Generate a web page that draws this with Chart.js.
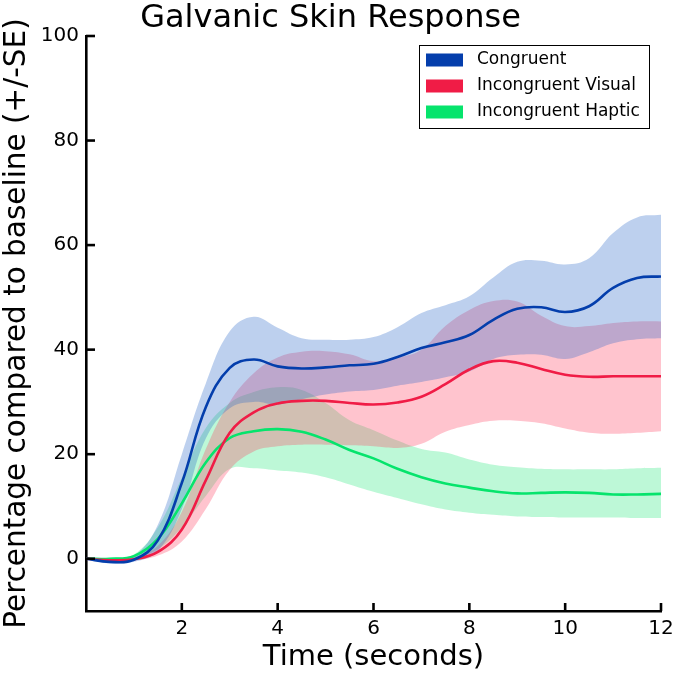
<!DOCTYPE html>
<html>
<head>
<meta charset="utf-8">
<script src="https://cdn.jsdelivr.net/npm/chart.js@4.4.1/dist/chart.umd.min.js"></script>
<style>
  html, body { margin: 0; padding: 0; background: #fff; }
  #wrap { width: 675px; height: 675px; }
</style>
</head>
<body>
<div id="wrap"><canvas id="canvas" width="675" height="675"></canvas></div>
<script>
// time axis (seconds), values every half second
var time = [0, 0.5, 1, 1.5, 2, 2.5, 3, 3.5, 4, 4.5, 5, 5.5, 6, 6.5, 7, 7.5, 8, 8.5, 9, 9.5, 10, 10.5, 11, 11.5, 12];

var congruent      = [0, -0.6, -0.2, 3.5, 14.5, 29, 36.5, 38.1, 36.8, 36.4, 36.6, 37.0, 37.3, 38.6, 40.3, 41.4, 42.8, 45.7, 47.8, 48.1, 47.2, 48.3, 51.8, 53.7, 54.0];
var congruentHi    = [0, -0.3, 0.5, 6.5, 20, 33.5, 43.5, 46.3, 44.2, 42.2, 41.9, 41.9, 42.4, 44.3, 47, 48.5, 50.2, 53.8, 56.8, 57.0, 56.3, 57.5, 62.3, 65.3, 65.8];
var congruentLo    = [0, -0.9, -0.6, 1.5, 9.5, 23, 28.8, 30, 29.5, 30.5, 31.4, 32, 32.3, 33.1, 33.8, 34.7, 35.8, 38.2, 39, 39, 38.2, 39.5, 41.2, 42, 42.2];

var visual         = [0, -0.3, -0.1, 1.3, 5.6, 15, 24.1, 28, 29.7, 30.2, 30.2, 29.8, 29.5, 29.9, 31, 33.4, 36.2, 37.8, 37.5, 36.3, 35.2, 34.8, 34.9, 34.9, 34.9];
var visualHi       = [0, 0, 0.3, 2.5, 9, 21, 30, 35.5, 38.5, 39.6, 39.7, 39.1, 37.8, 38.5, 40, 44.5, 47.6, 49.3, 49.2, 46.5, 44.5, 44.5, 45.1, 45.4, 45.4];
var visualLo       = [0, -0.4, -0.3, 0.6, 3.3, 9.5, 17, 20.5, 21.5, 21.8, 21.8, 21.7, 21.5, 21.2, 22, 24.3, 25.6, 26.4, 26.4, 25.9, 24.9, 24.1, 23.9, 24.1, 24.4];

var haptic         = [0, 0, 0.5, 3.8, 10.6, 18.4, 23.1, 24.4, 24.8, 24.3, 22.8, 20.8, 19.2, 17.2, 15.6, 14.4, 13.6, 12.9, 12.5, 12.6, 12.7, 12.6, 12.3, 12.3, 12.4];
var hapticHi       = [0, 0.2, 0.8, 6, 15.5, 25, 29.8, 31.9, 32.8, 32.3, 29.8, 26.5, 24.6, 22.6, 21, 20.3, 19, 18, 17.5, 17.2, 17.1, 17.1, 17.1, 17.3, 17.4];
var hapticLo       = [0, -0.2, 0.2, 1.8, 6, 12, 17.2, 17.3, 16.9, 16.5, 15.6, 14.2, 12.8, 11.6, 10.4, 9.4, 8.8, 8.4, 8.1, 8.0, 7.9, 7.9, 7.9, 7.8, 7.8];

var seriesNames = ["Congruent", "Incongruent Visual", "Incongruent Haptic"];
var xTicks = [2, 4, 6, 8, 10, 12];
var yTicks = [0, 20, 40, 60, 80, 100];

var lineColors = ["rgb(4,62,172)", "rgb(240,28,70)", "rgb(6,228,108)"];
var bandColors = ["rgba(35,98,198,0.3)", "rgba(255,58,92,0.3)", "rgba(38,232,122,0.3)"];

function pts(ys) {
    return time.map(function (t, i) { return { x: t, y: ys[i] }; });
}

var groups = [
    [congruent, congruentHi, congruentLo],
    [visual, visualHi, visualLo],
    [haptic, hapticHi, hapticLo]
];

var datasets = [];
// bands first (upper fills to the lower one right after it)
groups.forEach(function (g, k) {
    datasets.push({
        label: seriesNames[k] + " hi", data: pts(g[1]),
        borderWidth: 0, pointRadius: 0, backgroundColor: bandColors[k],
        fill: "+1", tension: 0.4
    });
    datasets.push({
        label: seriesNames[k] + " lo", data: pts(g[2]),
        borderWidth: 0, pointRadius: 0, backgroundColor: bandColors[k],
        fill: false, tension: 0.4
    });
});
groups.forEach(function (g, k) {
    datasets.push({
        label: seriesNames[k], data: pts(g[0]),
        borderColor: lineColors[k], backgroundColor: lineColors[k],
        borderWidth: 2.6, pointRadius: 0, fill: false,
        tension: 0.4, order: -1
    });
});

// inward tick marks like the original figure
var innerTicks = {
    id: "innerTicks",
    afterDatasetsDraw: function (chart) {
        var ctx = chart.ctx, xs = chart.scales.x, ys = chart.scales.y;
        var a = chart.chartArea;
        ctx.save();
        ctx.strokeStyle = "#000";
        ctx.lineWidth = 2.6;
        xTicks.forEach(function (v) {
            var px = xs.getPixelForValue(v);
            ctx.beginPath(); ctx.moveTo(px, a.bottom); ctx.lineTo(px, a.bottom - 8); ctx.stroke();
        });
        yTicks.forEach(function (v) {
            var py = ys.getPixelForValue(v);
            ctx.beginPath(); ctx.moveTo(a.left, py); ctx.lineTo(a.left + 9, py); ctx.stroke();
        });
        ctx.restore();
    }
};

// boxed legend in the upper right corner
var boxLegend = {
    id: "boxLegend",
    afterDraw: function (chart) {
        var ctx = chart.ctx, a = chart.chartArea;
        var w = 230, h = 83;
        var x0 = a.right - 12 - w, y0 = a.top + 9;
        ctx.save();
        ctx.fillStyle = "#fff";
        ctx.fillRect(x0, y0, w, h);
        ctx.strokeStyle = "#000";
        ctx.lineWidth = 1;
        ctx.strokeRect(x0 + 0.5, y0 + 0.5, w, h);
        ctx.font = "17px 'DejaVu Sans'";
        ctx.textBaseline = "middle";
        seriesNames.forEach(function (name, k) {
            var cy = y0 + 15 + k * 26;
            ctx.fillStyle = lineColors[k];
            ctx.fillRect(x0 + 7, cy - 6.5, 37, 13);
            ctx.fillStyle = "#000";
            ctx.fillText(name, x0 + 58, cy);
        });
        ctx.restore();
    }
};

var ctx = document.getElementById("canvas");
var chart = new Chart(ctx, {
    type: "line",
    data: { datasets: datasets },
    plugins: [innerTicks, boxLegend],
    options: {
        responsive: false,
        animation: false,
        layout: { padding: { top: 0, right: 14, left: 0, bottom: 0 } },
        plugins: {
            legend: { display: false },
            tooltip: { enabled: false },
            filler: { propagate: false, drawTime: "beforeDatasetsDraw" },
            title: {
                display: true,
                text: "Galvanic Skin Response",
                color: "#000",
                font: { family: "'DejaVu Sans'", size: 32, weight: "normal", lineHeight: 1 },
                padding: { top: 3, bottom: 1 }
            }
        },
        scales: {
            x: {
                type: "linear", min: 0, max: 12,
                afterBuildTicks: function (s) { s.ticks = xTicks.map(function (v) { return { value: v }; }); },
                afterFit: function (s) { s.height = 64; s.paddingRight = 0; s.paddingLeft = 0; },
                border: { display: true, color: "#000", width: 2.6 },
                grid: { drawOnChartArea: false, drawTicks: false },
                ticks: { color: "#000", padding: 6, maxRotation: 0, font: { family: "'DejaVu Sans'", size: 20 } },
                title: {
                    display: true, text: "Time (seconds)", color: "#000",
                    font: { family: "'DejaVu Sans'", size: 29 },
                    padding: { top: 0, bottom: 0 }
                }
            },
            y: {
                type: "linear", min: -10, max: 100,
                afterBuildTicks: function (s) { s.ticks = yTicks.map(function (v) { return { value: v }; }); },
                afterFit: function (s) { s.width = 86; },
                border: { display: true, color: "#000", width: 2.6 },
                grid: { drawOnChartArea: false, drawTicks: false },
                ticks: { color: "#000", padding: 7, font: { family: "'DejaVu Sans'", size: 20 } },
                title: {
                    display: true, text: "Percentage compared to baseline (+/-SE)", color: "#000",
                    font: { family: "'DejaVu Sans'", size: 29.5 },
                    padding: { top: 0, bottom: 0 }
                }
            }
        }
    }
});
</script>
</body>
</html>
